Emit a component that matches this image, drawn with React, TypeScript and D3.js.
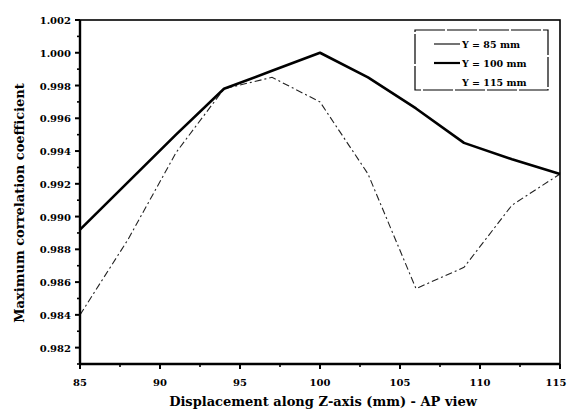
import React from "react";
import * as d3 from "d3";

const xValues = [85, 88, 91, 94, 97, 100, 103, 106, 109, 112, 115];
const y85 = [0.984, 0.9886, 0.9939, 0.9978, 0.9985, 0.997, 0.9926, 0.9856, 0.9869, 0.9907, 0.9926];
const y100 = [0.9892, 0.9921, 0.995, 0.9978, 0.9989, 1.0, 0.9985, 0.9966, 0.9945, 0.9935, 0.9926];
const xTicks = [85, 90, 95, 100, 105, 110, 115];
const yTicks = [0.982, 0.984, 0.986, 0.988, 0.99, 0.992, 0.994, 0.996, 0.998, 1.0, 1.002];
const legendLabels = ["Y = 85 mm", "Y = 100 mm", "Y = 115 mm"];

const W = 568, H = 418;
const M = { left: 80, right: 8, top: 20, bottom: 54 };
const font = "'DejaVu Serif', 'Liberation Serif', serif";

export default function App() {
  const x = d3.scaleLinear().domain([85, 115]).range([M.left, W - M.right]);
  const y = d3.scaleLinear().domain([0.981, 1.002]).range([H - M.bottom, M.top]);
  const line = d3.line<number>().x((_, i) => x(xValues[i])).y((d) => y(d));
  const minorX = d3.range(85, 115.01, 2.5).filter((v) => !xTicks.includes(v));
  const minorY = d3.range(0.981, 1.0021, 0.001).filter((v) => !yTicks.some((t) => Math.abs(t - v) < 1e-6));
  const x0 = x(85), x1 = x(115), yb = y(0.981), yt = y(1.002);
  return (
    <svg width={W} height={H} style={{ position: "absolute", left: 0, top: 0, background: "#fff" }}>
      <rect x={0} y={0} width={W} height={H} fill="#fff" />
      {/* series */}
      <path d={line(y85) || ""} fill="none" stroke="#222" strokeWidth={1.1} strokeDasharray="7 3 2 3" />
      <path d={line(y100) || ""} fill="none" stroke="#000" strokeWidth={2.6} strokeLinejoin="round" />
      {/* frame */}
      <rect x={x0} y={yt} width={x1 - x0} height={yb - yt} fill="none" stroke="#000" strokeWidth={1.6} />
      <line x1={x0} x2={x1} y1={yb} y2={yb} stroke="#000" strokeWidth={2.4} />
      <line x1={x0} x2={x0} y1={yt} y2={yb} stroke="#000" strokeWidth={2.4} />
      {/* x ticks */}
      {xTicks.map((t) => (
        <g key={"xt" + t}>
          <line x1={x(t)} x2={x(t)} y1={yb} y2={yb + 5} stroke="#000" strokeWidth={2} />
          <text x={Math.min(x(t), W - 12)} y={yb + 22} textAnchor="middle" fontFamily={font} fontWeight="bold" fontSize={10}>{t}</text>
        </g>
      ))}
      {minorX.map((t) => (
        <line key={"xm" + t} x1={x(t)} x2={x(t)} y1={yb} y2={yb + 3} stroke="#000" strokeWidth={1.6} />
      ))}
      {/* y ticks */}
      {yTicks.map((t) => (
        <g key={"yt" + t}>
          <line x1={x0 - 5} x2={x0} y1={y(t)} y2={y(t)} stroke="#000" strokeWidth={2} />
          <text x={x0 - 9} y={y(t) + 4} textAnchor="end" fontFamily={font} fontWeight="bold" fontSize={10}>{t.toFixed(3)}</text>
        </g>
      ))}
      {minorY.map((t) => (
        <line key={"ym" + t} x1={x0 - 3} x2={x0} y1={y(t)} y2={y(t)} stroke="#000" strokeWidth={1.6} />
      ))}
      {/* axis titles */}
      <text x={(x0 + x1) / 2 + 3} y={406} textAnchor="middle" fontFamily={font} fontWeight="bold" fontSize={13}>
        Displacement along Z-axis (mm) - AP view
      </text>
      <text transform={`translate(24, 203) rotate(-90)`} textAnchor="middle" fontFamily={font} fontWeight="bold" fontSize={13}>
        Maximum correlation coefficient
      </text>
      {/* legend */}
      <rect x={415} y={30} width={133} height={60} fill="#fff" stroke="#000" strokeWidth={1.2} strokeDasharray="30 2" />
      {legendLabels.map((lab, i) => (
        <g key={lab}>
          {i < 2 && (
            <line x1={434} x2={460} y1={44 + i * 19} y2={44 + i * 19} stroke="#000" strokeWidth={i === 0 ? 1.1 : 2.2} />
          )}
          <text x={462} y={48 + i * 19} fontFamily={font} fontWeight="bold" fontSize={9.5}>{lab}</text>
        </g>
      ))}
    </svg>
  );
}
